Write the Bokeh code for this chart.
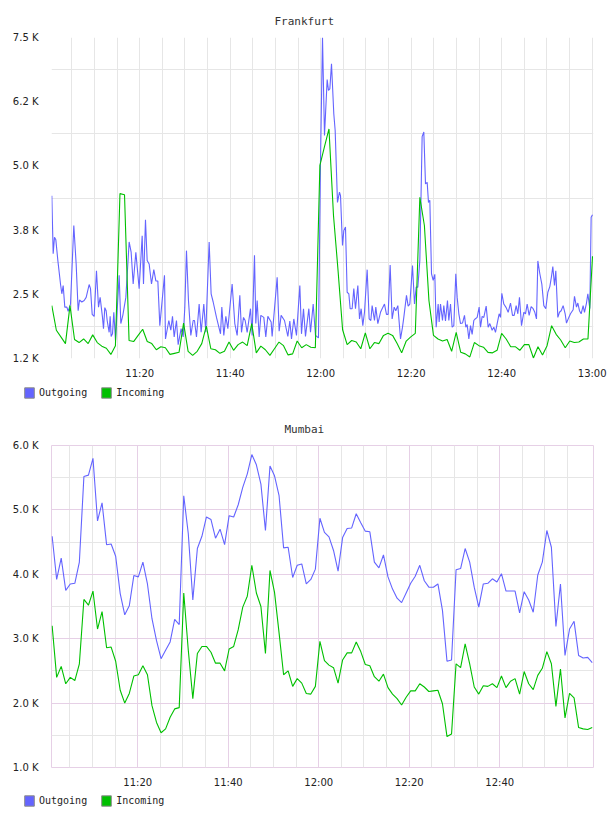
import numpy as np
from bokeh.plotting import figure
from bokeh.models import (FixedTicker, Legend, LegendItem, Range1d, Grid)
from bokeh.layouts import column
from bokeh.embed import file_html
from bokeh.resources import INLINE

# ---------------- data (minutes after 11:00, values in thousands) ----------------
x_tick_minutes = [20, 40, 60, 80, 100, 120]
x_tick_labels = ["11:20", "11:40", "12:00", "12:20", "12:40", "13:00"]

fr_y_ticks = [1.25, 2.5, 3.75, 5.0, 6.25, 7.5]
fr_y_labels = ["1.2 K", "2.5 K", "3.8 K", "5.0 K", "6.2 K", "7.5 K"]
mu_y_ticks = [1.0, 2.0, 3.0, 4.0, 5.0, 6.0]
mu_y_labels = ["1.0 K", "2.0 K", "3.0 K", "4.0 K", "5.0 K", "6.0 K"]
series_names = ["Outgoing", "Incoming"]

fr_out_min = [
    0.58, 0.88, 1.17, 1.47, 1.91, 2.50, 2.79, 3.09, 3.45, 3.90,
    4.19, 4.71, 5.44, 5.96, 6.40, 6.70, 7.21, 7.73, 8.17, 8.83,
    9.13, 9.50, 9.94, 10.45, 10.90, 11.26, 11.78, 12.00, 12.29, 12.59,
    12.81, 13.25, 13.47, 13.69, 13.99, 14.28, 14.65, 15.46, 15.83, 16.27,
    16.94, 17.67, 18.11, 18.56, 19.15, 19.88, 20.55, 20.84, 21.28, 21.65,
    22.09, 22.61, 23.12, 23.57, 24.01, 24.45, 25.48, 25.70, 26.44, 26.88,
    27.25, 27.62, 28.13, 28.50, 29.16, 29.61, 29.97, 30.34, 30.78, 31.30,
    31.82, 32.11, 32.55, 33.14, 33.58, 34.17, 34.61, 35.35, 35.79, 36.24,
    36.97, 37.86, 38.15, 38.59, 39.04, 39.48, 40.43, 41.02, 41.54, 42.13,
    42.50, 42.94, 43.31, 43.75, 44.49, 44.85, 45.37, 45.66, 45.96, 46.40,
    46.77, 47.43, 47.87, 48.32, 49.05, 49.27, 50.38, 50.82, 51.26, 52.00,
    52.74, 53.18, 53.55, 54.06, 54.65, 55.39, 55.76, 56.20, 56.64, 57.38,
    57.75, 58.34, 58.85, 59.51, 59.95, 60.40,
    60.84, 61.43, 61.72, 62.02, 62.39, 62.90, 63.20, 63.71, 64.15, 64.38,
    64.82, 65.11, 65.48, 65.85, 66.22, 66.51, 66.95, 67.32, 67.69, 68.21,
    68.58, 68.94, 69.31, 69.68, 70.27, 70.71, 71.08, 71.37, 71.89, 72.18,
    72.63, 73.22, 73.58, 74.10, 74.54, 74.91, 75.35, 75.79, 76.24, 76.60,
    77.05, 77.64, 78.08, 78.37, 78.96, 79.33, 79.70, 80.29, 80.73, 81.10,
    81.47, 81.91, 82.42, 82.79, 83.16, 83.53, 83.82, 84.12, 84.49, 84.86,
    85.22, 85.52, 85.96, 86.18, 86.48, 86.92, 87.21, 87.58, 88.02, 88.32,
    88.69, 89.05, 89.42, 89.86, 90.16, 90.53, 90.90, 91.34, 91.78, 92.07,
    92.37, 92.74, 93.11, 93.47, 93.84, 94.14, 94.58, 95.02, 95.32, 95.68,
    96.05, 96.57, 97.01, 97.38, 97.89, 98.26, 98.63, 99.00, 99.44, 99.74,
    100.03, 100.47, 100.99, 101.43, 101.95, 102.39, 102.76, 103.20, 103.57, 103.93,
    104.38, 104.89, 105.26, 105.63, 106.07, 106.51, 106.95, 107.32, 107.69, 107.99,
    108.43, 108.87, 109.31, 109.75, 110.20, 110.64, 111.01, 111.30, 111.67, 111.96,
    112.41, 112.77, 113.14, 113.58, 114.03, 114.32, 114.84, 115.20, 115.79, 116.09,
    116.53, 116.83, 117.19, 117.56, 118.00, 118.30, 118.74, 119.04, 119.48, 119.77,
    120.07,
]
fr_outgoing = [
    4.42, 3.29, 3.61, 3.56, 3.16, 2.70, 2.51, 2.67, 2.25, 2.25,
    2.17, 2.31, 3.84, 3.09, 2.18, 2.39, 2.35, 2.38, 2.44, 2.69,
    2.61, 2.11, 2.07, 2.96, 2.25, 2.44, 2.05, 1.83, 2.24, 2.18,
    1.99, 1.76, 2.07, 1.68, 1.73, 2.15, 1.60, 2.87, 1.93, 2.09,
    2.44, 3.52, 3.32, 2.70, 3.32, 2.61, 3.64, 2.70, 3.95, 3.16,
    3.09, 2.70, 2.98, 2.76, 2.76, 1.89, 2.87, 1.63, 1.99, 1.80,
    2.07, 1.67, 1.99, 1.52, 1.83, 1.67, 2.24, 3.35, 2.38, 1.70,
    1.99, 1.99, 1.67, 2.31, 1.76, 2.31, 1.76, 3.52, 2.51, 2.35,
    2.05, 1.73, 2.25, 1.70, 2.07, 1.83, 2.70, 1.93, 1.70, 2.48,
    1.76, 2.05, 1.99, 1.76, 2.22, 1.70, 3.26, 1.93, 2.38, 1.67,
    2.09, 2.05, 1.67, 2.07, 1.96, 1.68, 2.83, 1.78, 2.09, 1.99,
    1.68, 1.98, 1.63, 2.02, 1.70, 2.67, 1.73, 2.22, 1.68, 2.22,
    1.76, 2.31, 1.70, 1.65, 5.04, 7.50,
    5.59, 6.68, 6.47, 6.50, 6.99, 6.01, 5.69, 4.29, 4.49, 4.42,
    3.45, 3.74, 3.81, 2.54, 2.51, 2.22, 2.22, 2.61, 2.22, 2.67,
    2.02, 2.22, 1.89, 2.15, 2.98, 2.02, 1.99, 2.28, 1.99, 2.25,
    1.93, 2.15, 2.22, 2.31, 2.11, 2.11, 3.07, 2.02, 2.25, 2.18,
    2.28, 1.63, 1.86, 2.05, 2.48, 2.27, 2.31, 3.06, 2.31, 2.64,
    2.64, 3.16, 5.57, 5.66, 4.65, 4.68, 4.29, 4.33, 2.90, 2.77,
    2.89, 1.86, 2.31, 1.96, 2.31, 1.99, 2.28, 1.98, 2.38, 1.99,
    2.31, 1.86, 1.89, 2.90, 2.44, 2.12, 1.93, 1.94, 2.09, 1.86,
    1.91, 1.63, 1.89, 1.72, 1.99, 2.02, 2.05, 2.25, 1.86, 2.07,
    2.05, 2.27, 1.86, 1.93, 1.80, 1.86, 1.76, 1.93, 2.12, 2.05,
    2.52, 2.31, 2.24, 2.15, 2.33, 2.09, 2.09, 2.28, 2.12, 2.44,
    1.89, 2.15, 2.12, 2.31, 2.09, 2.26, 2.22, 2.15, 2.02, 3.15,
    2.90, 2.70, 2.28, 2.22, 2.54, 2.65, 2.85, 3.04, 2.67, 2.96,
    2.05, 2.15, 2.18, 2.28, 2.12, 1.94, 2.05, 2.12, 2.20, 2.46,
    2.25, 2.33, 2.18, 2.12, 2.28, 2.15, 2.33, 2.51, 2.22, 4.00,
    4.05,
]
fr_incoming = [
    2.28, 1.80, 1.67, 1.54, 2.28, 1.62, 1.56, 1.63, 1.54, 1.71,
    1.56, 1.49, 1.45, 1.33, 1.50, 4.46, 4.44, 1.60, 1.58, 1.70,
    1.82, 1.58, 1.54, 1.42, 1.48, 1.46, 1.33, 1.35, 1.37, 1.94,
    1.39, 1.31, 1.39, 1.54, 1.88, 1.44, 1.42, 1.35, 1.39, 1.57,
    1.41, 1.52, 1.57, 1.50, 1.93, 1.36, 1.49, 1.42, 1.31, 1.44,
    1.57, 1.50, 1.32, 1.34, 1.59, 1.46, 1.52, 1.47, 1.46, 5.01,
    5.37, 5.72, 4.03, 2.96, 1.81, 1.52, 1.60, 1.57, 1.44, 1.75,
    1.44, 1.56, 1.54, 1.70, 1.74, 1.70, 1.54, 1.36, 1.59, 1.67,
    1.74, 4.39, 3.84, 2.38, 1.70, 1.63, 1.59, 1.62, 1.39, 1.76,
    1.37, 1.34, 1.28, 1.56, 1.50, 1.47, 1.37, 1.36, 1.41, 1.74,
    1.63, 1.48, 1.48, 1.41, 1.52, 1.52, 1.26, 1.48, 1.32, 1.50,
    1.89, 1.72, 1.61, 1.46, 1.59, 1.56, 1.57, 1.63, 1.63, 3.24,
]
fr_in_min = np.linspace(0.58, 120.07, len(fr_incoming))

mu_outgoing = [
    4.59, 3.92, 4.25, 3.75, 3.85, 3.86, 4.19, 5.52, 5.54, 5.80,
    4.83, 5.11, 4.46, 4.47, 4.28, 3.70, 3.37, 3.51, 3.98, 3.96,
    4.19, 3.85, 3.31, 2.97, 2.69, 2.82, 2.95, 3.30, 3.22, 5.22,
    4.63, 3.60, 4.40, 4.59, 4.89, 4.85, 4.56, 4.70, 4.46, 4.91,
    4.89, 5.08, 5.35, 5.56, 5.86, 5.70, 5.40, 4.68, 5.68, 5.53,
    5.22, 4.41, 4.42, 3.95, 4.14, 4.16, 3.85, 3.92, 4.08, 4.87,
    4.65, 4.58, 4.37, 4.05, 4.57, 4.71, 4.72, 4.94, 4.80, 4.67,
    4.66, 4.19, 4.10, 4.30, 3.96, 3.77, 3.63, 3.56, 3.71, 3.86,
    3.97, 4.14, 3.90, 3.80, 3.80, 3.85, 3.44, 2.65, 2.67, 4.07,
    4.09, 4.40, 4.19, 3.80, 3.49, 3.85, 3.86, 3.93, 3.88, 4.01,
    3.74, 3.74, 3.74, 3.40, 3.73, 3.60, 3.41, 3.99, 4.19, 4.68,
    4.42, 3.19, 3.85, 2.74, 3.15, 3.27, 2.74, 2.70, 2.71, 2.63,
]
mu_incoming = [
    3.20, 2.40, 2.57, 2.30, 2.40, 2.35, 2.61, 3.61, 3.52, 3.74,
    3.15, 3.42, 2.86, 2.87, 2.65, 2.20, 2.00, 2.15, 2.42, 2.44,
    2.58, 2.44, 1.96, 1.70, 1.54, 1.60, 1.78, 1.91, 1.93, 3.71,
    2.82, 2.07, 2.77, 2.88, 2.88, 2.79, 2.62, 2.62, 2.50, 2.84,
    2.88, 3.14, 3.49, 3.66, 4.14, 3.71, 3.50, 2.77, 4.06, 3.72,
    3.09, 2.44, 2.50, 2.26, 2.38, 2.31, 2.15, 2.14, 2.26, 2.96,
    2.66, 2.59, 2.55, 2.31, 2.67, 2.78, 2.78, 2.95, 2.80, 2.60,
    2.58, 2.41, 2.34, 2.45, 2.24, 2.14, 2.07, 1.97, 2.09, 2.19,
    2.19, 2.30, 2.25, 2.18, 2.19, 2.20, 1.99, 1.48, 1.52, 2.61,
    2.55, 2.92, 2.61, 2.25, 2.14, 2.27, 2.26, 2.30, 2.24, 2.42,
    2.24, 2.34, 2.38, 2.14, 2.49, 2.30, 2.21, 2.43, 2.54, 2.80,
    2.61, 1.95, 2.53, 1.77, 2.15, 2.08, 1.62, 1.60, 1.59, 1.62,
]
mu_min = np.linspace(1.09, 120.44, len(mu_outgoing))

# ---------------- styling ----------------
BLUE = "#6464ff"
GREEN = "#00c000"
GRAY_GRID = "#e6e6e6"
PURPLE_GRID = "#e6d0e6"
TEXT = "#222222"
MONO = "DejaVu Sans Mono"
SANS = "DejaVu Sans"


def make_fig(title, title_offset, height, xr, yr, y_ticks, y_labels, x_ticks, x_labels,
             out_x, out_y, in_x, in_y, mumbai_style):
    p = figure(width=608, height=height, output_backend="svg", toolbar_location=None,
               x_range=Range1d(*xr), y_range=Range1d(*yr),
               min_border_left=51, min_border_right=15, min_border_top=37,
               min_border_bottom=24)
    p.frame_align = False
    p.background_fill_color = "white"
    p.border_fill_color = "white"
    p.title.text = title
    p.title.align = "left"
    p.title.offset = title_offset
    p.title.standoff = 20
    p.title.text_font = MONO
    p.title.text_font_size = "11px"
    p.title.text_font_style = "normal"
    p.title.text_color = "#333333"

    p.xaxis.ticker = FixedTicker(ticks=x_ticks)
    p.xaxis.major_label_overrides = {t: l for t, l in zip(x_ticks, x_labels)}
    p.yaxis.ticker = FixedTicker(ticks=y_ticks)
    p.yaxis.major_label_overrides = {t: l for t, l in zip(y_ticks, y_labels)}
    for ax in (p.xaxis, p.yaxis):
        ax.axis_line_color = None
        ax.major_tick_line_color = None
        ax.minor_tick_line_color = None
        ax.major_label_text_font = SANS
        ax.major_label_text_font_size = "10px"
        ax.major_label_text_color = TEXT
    p.xaxis.major_label_standoff = 3
    p.yaxis.major_label_standoff = 7

    step_y = y_ticks[1] - y_ticks[0]
    mids_y = [t + step_y / 2 for t in y_ticks[:-1]]
    minutes5 = list(range(5, 121, 5))
    p.xgrid.visible = False
    p.ygrid.visible = False
    if mumbai_style:
        minor_x = [m for m in minutes5 if m % 20 != 0 and m < 120]
        major_x = [m for m in minutes5 if m % 20 == 0 and m < 120]
        p.add_layout(Grid(dimension=0, ticker=FixedTicker(ticks=minor_x), grid_line_color=GRAY_GRID))
        p.add_layout(Grid(dimension=1, ticker=FixedTicker(ticks=mids_y), grid_line_color=GRAY_GRID))
        p.add_layout(Grid(dimension=0, ticker=FixedTicker(ticks=major_x), grid_line_color=PURPLE_GRID))
        p.add_layout(Grid(dimension=1, ticker=FixedTicker(ticks=y_ticks[1:-1]), grid_line_color=PURPLE_GRID))
        p.outline_line_color = PURPLE_GRID
        p.outline_line_width = 1
    else:
        p.add_layout(Grid(dimension=0, ticker=FixedTicker(ticks=minutes5), grid_line_color=GRAY_GRID))
        p.add_layout(Grid(dimension=1, ticker=FixedTicker(ticks=mids_y), grid_line_color=GRAY_GRID))
        p.outline_line_color = None

    p.line(out_x, out_y, line_color=BLUE, line_width=1.1)
    p.line(in_x, in_y, line_color=GREEN, line_width=1.1)
    return p


def make_legend(height, vy):
    lp = figure(width=608, height=height, output_backend="svg", toolbar_location=None,
                x_axis_type=None, y_axis_type=None,
                x_range=Range1d(0, 1), y_range=Range1d(0, 1),
                min_border=0, min_border_left=0, min_border_right=0,
                min_border_top=0, min_border_bottom=0)
    lp.frame_align = False
    lp.title.visible = False
    lp.outline_line_color = None
    lp.xgrid.visible = False
    lp.ygrid.visible = False
    lp.background_fill_color = "white"
    lp.border_fill_color = "white"
    # swatch renderers (kept off-range, only their legend glyphs are seen)
    q1 = lp.quad(left=[5], right=[6], top=[6], bottom=[5], fill_color=BLUE, line_color="#8a8a8a")
    q2 = lp.quad(left=[5], right=[6], top=[6], bottom=[5], fill_color=GREEN, line_color="#8a8a8a")
    leg = Legend(items=[LegendItem(label=series_names[0], renderers=[q1]),
                        LegendItem(label=series_names[1], renderers=[q2])],
                 orientation="horizontal", location=(23, vy),
                 padding=0, margin=0, spacing=13, label_standoff=4,
                 glyph_width=12, glyph_height=13, label_height=13,
                 label_text_font=MONO, label_text_font_size="10px",
                 label_text_color=TEXT, border_line_color=None,
                 background_fill_alpha=0)
    lp.add_layout(leg)
    return lp


p1 = make_fig("Frankfurt", 223, 382, (0.51, 120.29), (1.25, 7.5), fr_y_ticks, fr_y_labels,
              x_tick_minutes, x_tick_labels, fr_out_min, fr_outgoing, fr_in_min, fr_incoming,
              False)
l1 = make_legend(26, 9.5)
p2 = make_fig("Mumbai", 233, 383, (0.95, 120.72), (1.0, 6.0), mu_y_ticks, mu_y_labels,
              x_tick_minutes[:-1], x_tick_labels[:-1], mu_min, mu_outgoing, mu_min, mu_incoming,
              True)
l2 = make_legend(25, 9.5)

layout = column(p1, l1, p2, l2, spacing=0)
open("out.html", "w").write(file_html(layout, INLINE))
